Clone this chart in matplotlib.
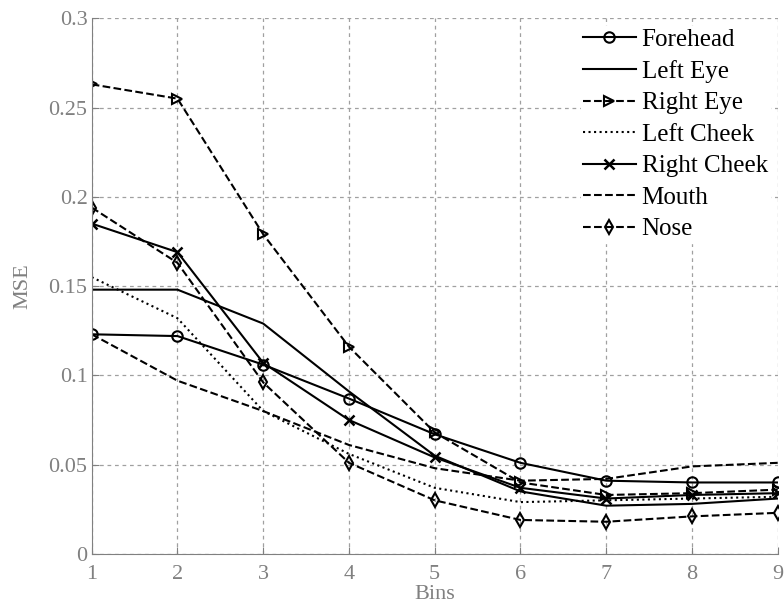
import numpy as np
import matplotlib.pyplot as plt

bins = [1, 2, 3, 4, 5, 6, 7, 8, 9]

forehead = [0.123, 0.122, 0.106, 0.087, 0.067, 0.051, 0.041, 0.040, 0.040]
left_eye = [0.148, 0.148, 0.129, 0.091, 0.055, 0.035, 0.027, 0.028, 0.031]
right_eye = [0.263, 0.255, 0.179, 0.116, 0.068, 0.040, 0.033, 0.034, 0.036]
left_cheek = [0.155, 0.132, 0.080, 0.056, 0.037, 0.029, 0.030, 0.031, 0.032]
right_cheek = [0.185, 0.169, 0.107, 0.075, 0.054, 0.037, 0.031, 0.033, 0.034]
mouth = [0.123, 0.097, 0.080, 0.061, 0.048, 0.041, 0.042, 0.049, 0.051]
nose = [0.194, 0.163, 0.096, 0.051, 0.030, 0.019, 0.018, 0.021, 0.023]

plt.rcParams['font.family'] = ['Liberation Serif', 'DejaVu Serif']
gray = '#808080'

fig = plt.figure(figsize=(7.84, 6.10), dpi=100)
ax = fig.add_axes([0.117, 0.092, 0.875, 0.878])

lw = 1.5
ms = 7.5
ax.plot(bins, forehead, '-', color='k', lw=lw, marker='o', ms=ms, mfc='none', mew=1.5, label='Forehead')
ax.plot(bins, left_eye, '-', color='k', lw=lw, label='Left Eye')
ax.plot(bins, right_eye, '--', color='k', lw=lw, marker='>', ms=ms, mfc='none', mew=1.5, label='Right Eye')
ax.plot(bins, left_cheek, ':', color='k', lw=lw, label='Left Cheek')
ax.plot(bins, right_cheek, '-', color='k', lw=lw, marker='x', ms=ms, mew=1.8, label='Right Cheek')
ax.plot(bins, mouth, '--', color='k', lw=lw, label='Mouth')
ax.plot(bins, nose, '--', color='k', lw=lw, marker='d', ms=ms, mfc='none', mew=1.5, label='Nose')

ax.set_xlim(1, 9)
ax.set_ylim(0, 0.3)
ax.set_xticks(bins)
ax.set_yticks([0, 0.05, 0.1, 0.15, 0.2, 0.25, 0.3])
ax.set_yticklabels(['0', '0.05', '0.1', '0.15', '0.2', '0.25', '0.3'])
ax.grid(True, linestyle=(0, (3, 3)), color='#a0a0a0', lw=0.9)
ax.tick_params(direction='in', colors=gray, labelsize=16, length=5, labelcolor=gray, pad=3)
ax.tick_params(axis='x', pad=8)
for s in ['top', 'right']:
    ax.spines[s].set_visible(False)
for s in ['left', 'bottom']:
    ax.spines[s].set_color(gray)

ax.set_xlabel('Bins', color=gray, fontsize=16, labelpad=1)
ax.set_ylabel('MSE', color=gray, fontsize=16, labelpad=12)

leg = ax.legend(loc='upper right', fontsize=18, frameon=True, fancybox=False,
                handlelength=2.1, labelspacing=0.36, borderaxespad=0.3,
                handletextpad=0.24, borderpad=0.1)
leg.get_frame().set_edgecolor('white')
leg.get_frame().set_alpha(1)

fig.savefig('out.png', dpi=100)
